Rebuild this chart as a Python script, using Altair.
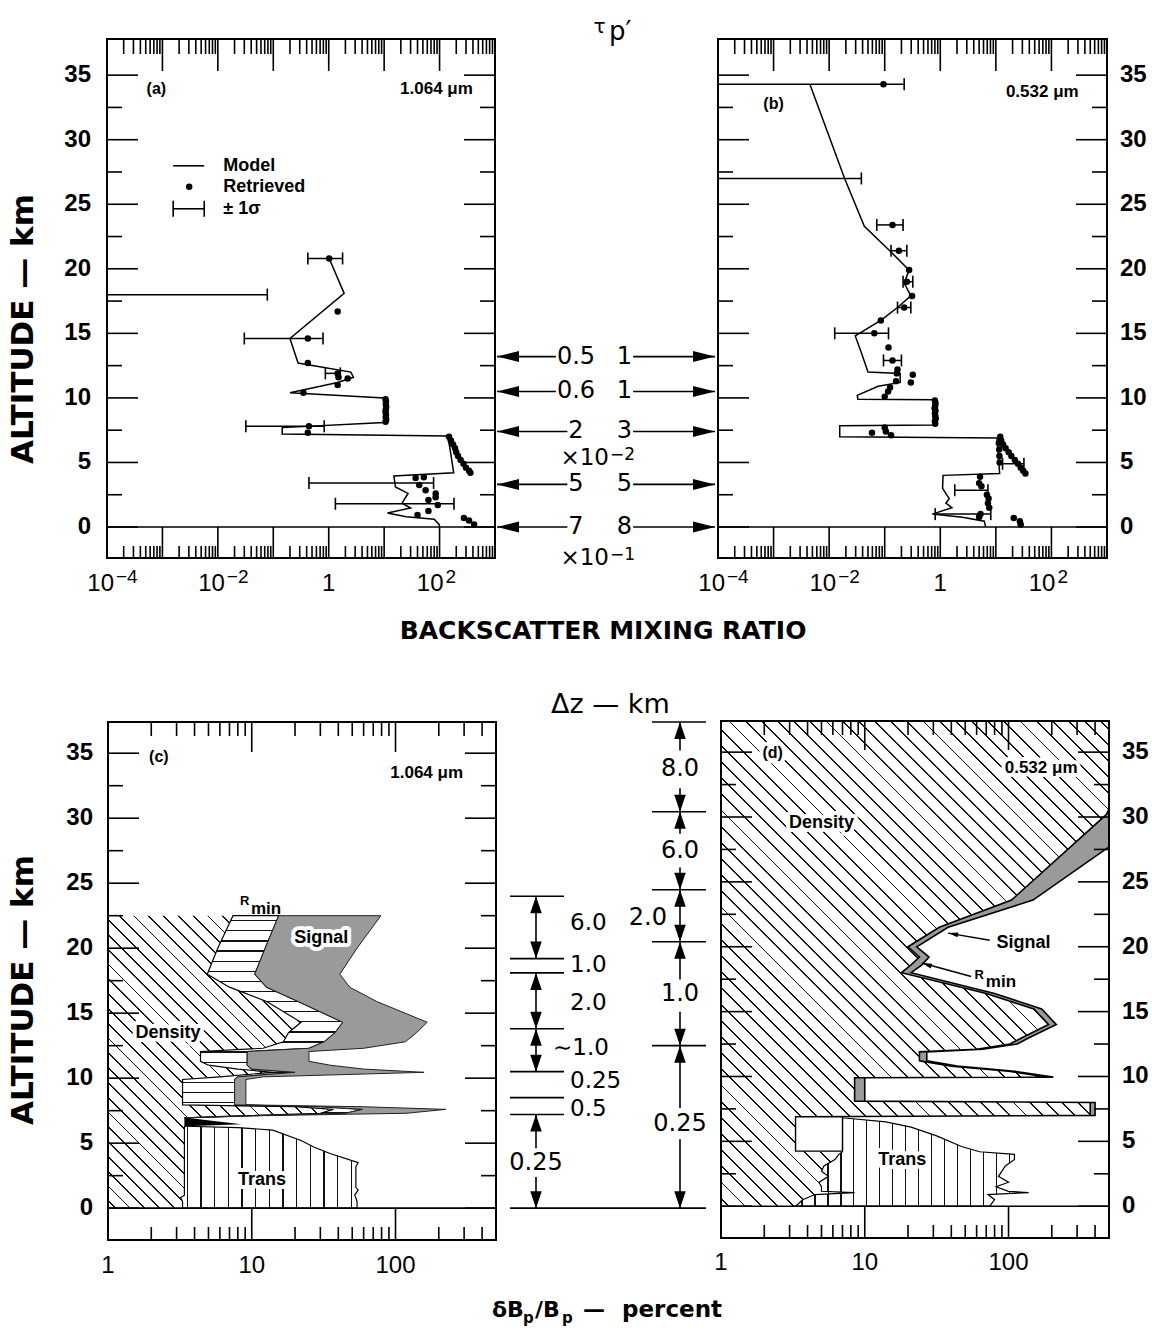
import math
import altair as alt
import pandas as pd

LIB = "Liberation Sans"
DJV = "DejaVu Sans"

# ======================= DATA =======================
# (a) 1.064 um : model profile, retrieved values, +-1 sigma bars
a_model_z = [20.8, 18.1, 14.6, 12.7, 12.0, 11.6, 11.2, 10.4, 10.0, 8.1, 7.7, 7.2, 7.05,
             6.0, 4.2, 3.95, 3.1, 2.6, 1.85, 1.47, 1.08, 0.8, 0.6, 0.2, 0.02]
a_model_x = [1.02, 1.9, 0.2, 0.28, 2.5, 2.8, 1.45, 0.2, 10.0, 10.0, 0.145, 0.145, 140,
             155, 180, 15, 16, 27, 21, 30, 11.5, 25, 80, 98, 100]
a_ret_z = [20.8, 16.7, 14.6, 12.7, 11.9, 11.6, 11.5, 11.0, 10.4,
           9.9, 9.7, 9.5, 9.3, 9.1, 8.9, 8.7, 8.5, 8.3, 8.15,
           7.8, 7.3,
           7.0, 6.7, 6.4, 6.1, 5.8, 5.5, 5.2, 4.9, 4.6, 4.35, 4.2,
           3.8, 3.85, 3.25, 2.85, 2.6, 2.3, 2.1, 1.7, 1.25, 0.93, 0.7, 0.5, 0.2]
a_ret_x = [1.02, 1.45, 0.42, 0.42, 1.45, 1.5, 2.2, 1.45, 0.35,
           10.6, 10.8, 10.7, 10.9, 10.7, 10.6, 10.8, 10.7, 10.9, 10.6,
           0.44, 0.42,
           148, 160, 175, 190, 200, 215, 240, 270, 300, 340, 360,
           37, 52, 43, 56, 85, 85, 63, 93, 63, 40, 275, 340, 420]
a_err_z = [20.8, 18.0, 14.6, 11.9, 7.8, 3.4, 1.8]
a_err_lo = [0.42, 1e-5, 0.030, 0.87, 0.032, 0.44, 1.32]
a_err_hi = [1.78, 0.078, 0.79, 1.62, 0.83, 78, 182]

# (b) 0.532 um
b_model_z = [34.3, 27.0, 23.3, 21.4, 19.9, 18.9, 17.9, 17.0, 16.0, 14.8, 13.5, 12.0, 11.9,
             11.2, 10.9, 10.2, 9.9, 9.85, 7.9, 7.85, 7.0, 6.9, 4.15, 4.0, 3.0, 2.2, 1.85,
             1.5, 1.0, 0.75, 0.45, 0.05]
b_model_x = [0.0045, 0.019, 0.043, 0.123, 0.275, 0.224, 0.295, 0.17, 0.085, 0.0295, 0.038,
             0.05, 0.19, 0.19, 0.076, 0.032, 0.033, 0.81, 0.81, 0.0155, 0.0155, 10.5, 11.7,
             1.12, 1.1, 1.45, 1.26, 1.62, 0.72, 2.5, 6.2, 6.5]
b_ret_z = [34.3, 23.4, 21.4, 19.9, 19.0, 17.9, 17.0, 16.0, 15.0, 13.9, 12.9, 12.2, 11.9,
           11.8, 11.3, 11.2, 10.8, 10.5, 10.1,
           9.8, 9.6, 9.4, 9.2, 9.0, 8.8, 8.6, 8.4, 8.2, 8.0,
           7.7, 7.4, 7.3, 7.1,
           7.0, 6.7, 6.4, 6.1, 5.8, 5.5, 5.2, 4.9, 4.6, 4.35, 4.15,
           6.5, 6.0, 5.5, 5.0,
           3.9, 3.4, 3.15, 2.5, 2.2, 1.85, 1.5, 1.0, 0.77, 0.7, 0.45, 0.2]
b_ret_x = [0.095, 0.138, 0.18, 0.275, 0.25, 0.31, 0.224, 0.085, 0.065, 0.117, 0.138, 0.17,
           0.165, 0.32, 0.16, 0.295, 0.125, 0.115, 0.1,
           0.80, 0.82, 0.81, 0.79, 0.82, 0.80, 0.81, 0.83, 0.80, 0.81,
           0.1, 0.105, 0.059, 0.13,
           12, 12.5, 13.5, 15, 17, 19, 22, 25, 28, 31, 34,
           11.3, 11.5, 11.6, 11.7,
           5.2, 5.0, 5.5, 6.9, 7.4, 7.2, 7.6, 5.3, 5.0, 21, 27, 28]
b_err_z = [34.3, 27.0, 23.4, 21.4, 19.0, 17.0, 15.0, 12.9, 4.9, 2.85, 1.0]
b_err_lo = [1e-5, 1e-5, 0.072, 0.13, 0.214, 0.17, 0.0126, 0.095, 13.2, 1.82, 0.81]
b_err_hi = [0.224, 0.038, 0.214, 0.25, 0.32, 0.295, 0.117, 0.2, 32, 7.2, 8.1]

# (c) 1.064 um error budget (cumulative boundaries, percent)
c_low_z = [0.0, 0.4, 0.8, 1.2, 2.0, 4.0, 6.0, 6.95]
c_low_D = [3.3, 3.3, 3.2, 3.4, 3.4, 3.4, 3.4, 3.4]
c_z = [6.95, 7.1, 7.3, 7.6, 7.8, 7.95, 8.1, 9.9, 10.1, 10.45, 10.7, 11.0, 11.3, 11.9,
       12.05, 12.3, 12.8, 13.5, 14.3, 15.9, 17.0, 18.0, 20.0, 22.5]
c_D = [3.4, 8, 30, 37, 20, 3.3, 3.3, 3.3, 6, 14, 8, 5, 4.4, 4.4, 4.4, 12, 16.6, 18, 22,
       12.7, 7, 4.9, 5.8, 7.4]
c_R = [3.4, 9, 45, 59, 30, 7.6, 7.6, 7.6, 8, 20, 10, 9.3, 9.3, 9.3, 9.3, 25, 32, 38, 43,
       21, 12.7, 10.5, 12.4, 15.4]
c_S = [3.4, 10, 120, 224, 60, 9.1, 9.1, 9.1, 12, 158, 60, 35, 25, 25, 25, 60, 117, 140,
       166, 74, 48, 41, 54, 79]
c_trans_z = [0.0, 0.5, 0.8, 1.0, 1.4, 1.6, 2.5, 3.2, 3.5, 4.2, 4.7, 5.2, 6.0, 6.2, 6.3]
c_trans_lo = [3.3, 3.3, 3.2, 3.4, 3.4, 3.4, 3.4, 3.4, 3.4, 3.4, 3.4, 3.4, 3.4, 3.4, 3.4]
c_trans_hi = [54, 54, 53, 52, 55, 53, 53, 53, 55, 35, 27, 22, 14, 8, 3.5]
c_wedge_z = [6.3, 6.45, 6.95]
c_wedge_lo = [3.4, 3.4, 3.4]
c_wedge_hi = [3.5, 8.5, 3.5]

# (d) 0.532 um error budget
d_low_z = [0.0, 0.5, 0.9, 1.05, 1.15, 1.5, 1.85, 2.3, 2.7, 3.1, 3.6, 4.0, 4.15, 4.25, 6.9]
d_low_D = [3.3, 3.7, 4.5, 8.5, 5.0, 5.0, 4.8, 5.6, 5.0, 5.2, 6.2, 6.6, 6.0, 3.3, 3.3]
d_z = [6.9, 7.0, 8.0, 8.1, 9.9, 9.95, 10.4, 10.8, 11.2, 11.9, 12.1, 12.5, 13.0, 14.0,
       15.2, 16.4, 18.0, 18.6, 19.2, 20.0, 21.5, 23.6, 27.7, 30.2, 30.6, 37.4]
d_D = [3.3, 370, 370, 8.5, 8.5, 190, 100, 40, 24, 24, 60, 102, 125, 190, 150, 70, 18,
       21, 24, 20, 33, 105, 270, 480, 500, 500]
d_S = [3.3, 400, 400, 10, 10, 205, 110, 44, 27, 27, 66, 115, 140, 215, 170, 80, 21, 25,
       28, 23, 38, 148, 500, 500, 500, 500]
d_trans_z = [0.0, 0.5, 0.9, 1.05, 1.15, 1.5, 1.85, 2.3, 2.7, 3.1, 3.6, 4.0, 4.2, 4.6,
             5.4, 6.1, 6.5, 6.8]
d_trans_lo = [3.3, 3.7, 4.5, 8.5, 5.0, 5.0, 4.8, 5.6, 5.0, 5.2, 6.2, 6.6, 7.0, 7.0, 7.0,
              7.0, 7.0, 7.0]
d_trans_hi = [74, 80, 72, 138, 100, 82, 100, 85, 90, 95, 110, 110, 63, 47, 32, 21, 14, 7.3]
d_box_x = [3.3, 7.0]
d_box_z = [4.25, 6.9]

# centre annotations
ROW_Z = [13.2, 10.5, 7.4, 3.3, 0.0]
ROW_L = ["0.5", "0.6", "2", "5", "7"]
ROW_R = ["1", "1", "3", "5", "8"]
MULT_Z = [4.8, -2.95]
MULT_EXP = ["\u22122", "\u22121"]
DZ_LEFT_BARS = [24.0, 19.2, 18.1, 13.8, 10.5, 8.5, 7.2]
DZ_RIGHT_BARS = [37.4, 30.5, 24.5, 20.5, 12.5]
DZ_LEFT_SEGS = [(24.0, 19.2, None), (18.1, 13.8, None), (13.8, 10.5, None), (7.2, 0.0, (4.6, 2.4))]
DZ_RIGHT_SEGS = [(37.4, 30.5, (35.2, 32.3)), (30.5, 24.5, (28.8, 26.2)), (24.5, 20.5, None),
                 (20.5, 12.5, (17.6, 15.1)), (12.5, 0.0, (7.7, 5.3))]
DZ_LEFT_LBL = [("6.0", 21.9), ("1.0", 18.7), ("2.0", 15.8), ("\u223c1.0", 12.3), ("0.25", 9.75), ("0.5", 7.6)]
DZ_RIGHT_LBL = [("8.0", 33.8), ("6.0", 27.5), ("1.0", 16.5), ("0.25", 6.5)]

# axis ticks / labels
Y_MAJOR = [0, 5, 10, 15, 20, 25, 30, 35]
Y_MINOR = [2.5, 7.5, 12.5, 17.5, 22.5, 27.5, 32.5]
AB_MAJOR = [1e-3, 1e-2, 1e-1, 1.0, 1e1, 1e2]
AB_MINOR = [k * 10.0 ** e for e in range(-4, 3) for k in range(2, 10)]
CD_MAJOR = [10.0, 100.0]
CD_MINOR = [k * 10.0 ** e for e in range(0, 3) for k in range(2, 10) if k * 10.0 ** e <= 500]
AB_LBL_V = [1e-4, 1e-2, 1.0, 1e2]
AB_LBL_BASE = ["10", "10", "1", "10"]
AB_LBL_EXP = ["\u22124", "\u22122", "", "2"]
CD_LBL_V = [1.0, 10.0, 100.0]
CD_LBL = ["1", "10", "100"]

# ======================= LAYOUT (absolute pixels) =======================
Y1 = [-2.4, 37.8]
Y2 = [-2.45, 37.4]
XAB = [1e-4, 1e3]
XCD = [1.0, 500.0]
PA = dict(x0=107, x1=495, y0=39, y1=558, xd=XAB, yd=Y1, log=True)
PB = dict(x0=718, x1=1107, y0=39, y1=558, xd=XAB, yd=Y1, log=True)
PC = dict(x0=108, x1=496, y0=722, y1=1240, xd=XCD, yd=Y2, log=True)
PD = dict(x0=721, x1=1109, y0=721, y1=1238, xd=XCD, yd=Y2, log=True)
M1 = dict(x0=494, x1=718, y0=39, y1=558, xd=[494, 718], yd=Y1, log=False)
M2 = dict(x0=496, x1=721, y0=722, y1=1240, xd=[496, 721], yd=Y2, log=False)
ARROW_H = "M0,0L-1,-0.25L-1,0.25Z"
ARROW_V = "M0,0L-1,-0.34L-1,0.34Z"
CAP = "M0,-1L0,1"


def df(**cols):
    return pd.DataFrame(cols)


def X(f, p, clamp=False):
    if p["log"]:
        sc = alt.Scale(type="log", domain=p["xd"], range=[p["x0"], p["x1"]], nice=False, clamp=clamp)
    else:
        sc = alt.Scale(type="linear", domain=p["xd"], range=[p["x0"], p["x1"]], nice=False, zero=False)
    return alt.X(f, type="quantitative", scale=sc, axis=None)


def Y(f, p):
    sc = alt.Scale(type="linear", domain=p["yd"], range=[p["y1"], p["y0"]], nice=False, zero=False)
    return alt.Y(f, type="quantitative", scale=sc, axis=None)


def pw(p):
    return p["x1"] - p["x0"]


def ph(p):
    return p["y1"] - p["y0"]


def px_log(v, p):
    return pw(p) * math.log10(v / p["xd"][0]) / math.log10(p["xd"][1] / p["xd"][0])


def px_lin(z, p):
    return ph(p) * (z - p["yd"][0]) / (p["yd"][1] - p["yd"][0])


def stripe_stops(n, half):
    st = [{"offset": 0.0, "color": "white"}]
    for i in range(n):
        c = (i + 0.5) / n
        a = round(max(c - half, 0.0), 5)
        b = round(min(c + half, 1.0), 5)
        st += [{"offset": a, "color": "white"}, {"offset": a, "color": "#111111"},
               {"offset": b, "color": "#111111"}, {"offset": b, "color": "white"}]
    st.append({"offset": 1.0, "color": "white"})
    return st


def hatch_diag(W, H, gap, lw=1.3):
    L = (W + H) / math.sqrt(2)
    n = max(1, int(round(L / gap)))
    t = (W + H) / (W * W + H * H)
    return {"gradient": "linear", "x1": 0, "y1": 1, "x2": round(t * W, 5),
            "y2": round(1 - t * H, 5), "stops": stripe_stops(n, lw / 2 / L)}


def hatch_v(W, gap, lw=1.3):
    n = max(1, int(round(W / gap)))
    return {"gradient": "linear", "x1": 0, "y1": 0, "x2": 1, "y2": 0,
            "stops": stripe_stops(n, lw / 2 / W)}


def hatch_h(H, gap, lw=1.3):
    n = max(1, int(round(H / gap)))
    return {"gradient": "linear", "x1": 0, "y1": 0, "x2": 0, "y2": 1,
            "stops": stripe_stops(n, lw / 2 / H)}


def txt(d, xe, ye, **kw):
    base = dict(font=LIB, fontSize=18, fontWeight="bold", color="black",
                align="center", baseline="middle")
    base.update(kw)
    return alt.Chart(d).mark_text(**base).encode(x=xe, y=ye, text="t:N")


def halo_txt(d, xe, ye, **kw):
    h = dict(kw)
    h.update(color="white", stroke="white", strokeWidth=8, strokeJoin="round")
    return [txt(d, xe, ye, **h), txt(d, xe, ye, **kw)]


def frame(p, xmaj, xmin, top_maj, top_min, bot_min, side, lab_pad):
    x0, x1, y0, y1 = p["x0"], p["x1"], p["y0"], p["y1"]
    zpix = y0 + ph(p) * p["yd"][1] / (p["yd"][1] - p["yd"][0])
    R = dict(color="black", strokeWidth=1.6)
    L = []
    L.append(alt.Chart(df(v=xmaj)).mark_rule(**R).encode(x=X("v", p), y=alt.value(y0), y2=alt.value(y0 + top_maj)))
    L.append(alt.Chart(df(v=xmin)).mark_rule(**R).encode(x=X("v", p), y=alt.value(y0), y2=alt.value(y0 + top_min)))
    L.append(alt.Chart(df(v=xmaj)).mark_rule(**R).encode(x=X("v", p), y=alt.value(y1), y2=alt.value(zpix)))
    L.append(alt.Chart(df(v=xmin)).mark_rule(**R).encode(x=X("v", p), y=alt.value(y1), y2=alt.value(y1 - bot_min)))
    L.append(alt.Chart(df(v=Y_MAJOR)).mark_rule(**R).encode(y=Y("v", p), x=alt.value(x0), x2=alt.value(x0 + 31)))
    L.append(alt.Chart(df(v=Y_MAJOR)).mark_rule(**R).encode(y=Y("v", p), x=alt.value(x1), x2=alt.value(x1 - 31)))
    L.append(alt.Chart(df(v=Y_MINOR)).mark_rule(**R).encode(y=Y("v", p), x=alt.value(x0), x2=alt.value(x0 + 15)))
    L.append(alt.Chart(df(v=Y_MINOR)).mark_rule(**R).encode(y=Y("v", p), x=alt.value(x1), x2=alt.value(x1 - 15)))
    L.append(alt.Chart(df(z=[0.0])).mark_rule(**R).encode(y=Y("z", p), x=alt.value(x0), x2=alt.value(x1)))
    L.append(alt.Chart(df(k=[0])).mark_rect(fillOpacity=0, stroke="black", strokeWidth=2).encode(
        x=alt.value(x0), x2=alt.value(x1), y=alt.value(y0), y2=alt.value(y1)))
    labs = df(v=Y_MAJOR, t=[str(v) for v in Y_MAJOR])
    if side == "left":
        L.append(alt.Chart(labs).mark_text(font=LIB, fontSize=24, fontWeight="bold", color="black",
                                           align="right", baseline="middle").encode(
            y=Y("v", p), x=alt.value(x0 - lab_pad), text="t:N"))
    else:
        L.append(alt.Chart(labs).mark_text(font=LIB, fontSize=24, fontWeight="bold", color="black",
                                           align="left", baseline="middle").encode(
            y=Y("v", p), x=alt.value(x1 + lab_pad), text="t:N"))
    return L


def ab_labels(p):
    L = []
    y1 = p["y1"]
    for v, b, e in zip(AB_LBL_V, AB_LBL_BASE, AB_LBL_EXP):
        if e:
            off = 7 if e.startswith("\u2212") else 4
            L.append(alt.Chart(df(v=[v], t=[b])).mark_text(
                align="right", baseline="alphabetic", dx=off, dy=33, font=LIB, fontSize=24,
                color="black").encode(x=X("v", p), y=alt.value(y1), text="t:N"))
            L.append(alt.Chart(df(v=[v], t=[e])).mark_text(
                align="left", baseline="alphabetic", dx=off + 2, dy=25, font=LIB, fontSize=19,
                color="black").encode(x=X("v", p), y=alt.value(y1), text="t:N"))
        else:
            L.append(alt.Chart(df(v=[v], t=[b])).mark_text(
                align="center", baseline="alphabetic", dy=33, font=LIB, fontSize=24,
                color="black").encode(x=X("v", p), y=alt.value(y1), text="t:N"))
    return L


def cd_labels(p, dy):
    return [alt.Chart(df(v=CD_LBL_V, t=CD_LBL)).mark_text(
        align="center", baseline="alphabetic", dy=dy, font=LIB, fontSize=24,
        color="black").encode(x=X("v", p), y=alt.value(p["y1"]), text="t:N")]


def profile_layers(p, mz, mxv, rz, rx, ez, elo, ehi):
    L = []
    L.append(alt.Chart(df(z=ez, lo=elo, hi=ehi)).mark_rule(color="black", strokeWidth=1.5).encode(
        x=X("lo", p, clamp=True), x2=alt.X2("hi"), y=Y("z", p)))
    cz, cv = [], []
    for z, lo, hi in zip(ez, elo, ehi):
        for v in (lo, hi):
            if v >= p["xd"][0]:
                cz.append(z)
                cv.append(v)
    L.append(alt.Chart(df(z=cz, v=cv)).mark_point(
        shape=CAP, size=144, filled=False, color="black", strokeWidth=1.6, opacity=1).encode(
        x=X("v", p), y=Y("z", p)))
    L.append(alt.Chart(df(z=mz, x=mxv, i=list(range(len(mz))))).mark_line(
        color="black", strokeWidth=1.5).encode(
        x=X("x", p), y=Y("z", p), order=alt.Order("i:Q")))
    L.append(alt.Chart(df(z=rz, x=rx)).mark_circle(size=42, color="black", opacity=1).encode(
        x=X("x", p), y=Y("z", p)))
    return L


# ---------------- panel (a) ----------------
def panel_a():
    p = PA
    L = profile_layers(p, a_model_z, a_model_x, a_ret_z, a_ret_x, a_err_z, a_err_lo, a_err_hi)
    L.append(alt.Chart(df(x1=[10 ** -2.806], x2=[10 ** -2.246], z=[27.98])).mark_rule(
        color="black", strokeWidth=1.6).encode(x=X("x1", p), x2=alt.X2("x2"), y=Y("z", p)))
    L.append(alt.Chart(df(x=[10 ** -2.517], z=[26.36])).mark_circle(size=42, color="black", opacity=1).encode(
        x=X("x", p), y=Y("z", p)))
    L.append(alt.Chart(df(x1=[10 ** -2.806], x2=[10 ** -2.246], z=[24.65])).mark_rule(
        color="black", strokeWidth=1.6).encode(x=X("x1", p), x2=alt.X2("x2"), y=Y("z", p)))
    L.append(alt.Chart(df(v=[10 ** -2.806, 10 ** -2.246], z=[24.65, 24.65])).mark_point(
        shape=CAP, size=256, filled=False, color="black", strokeWidth=1.6, opacity=1).encode(
        x=X("v", p), y=Y("z", p)))
    L.append(txt(df(x=[10 ** -1.902] * 3, z=[27.98, 26.36, 24.65], t=["Model", "Retrieved", "\u00b1 1\u03c3"]),
                 X("x", p), Y("z", p), align="left"))
    L.append(txt(df(x=[10 ** -3.11], z=[33.9], t=["(a)"]), X("x", p), Y("z", p), fontSize=16))
    L.append(txt(df(x=[10 ** 2.6], z=[33.9], t=["1.064 \u03bcm"]), X("x", p), Y("z", p),
                 fontSize=17, align="right"))
    L += frame(p, AB_MAJOR, AB_MINOR, 32, 15, 12, "left", 16)
    L += ab_labels(p)
    return L


# ---------------- panel (b) ----------------
def panel_b():
    p = PB
    L = profile_layers(p, b_model_z, b_model_x, b_ret_z, b_ret_x, b_err_z, b_err_lo, b_err_hi)
    L.append(txt(df(x=[10 ** -3.0], z=[32.8], t=["(b)"]), X("x", p), Y("z", p), fontSize=16))
    L.append(txt(df(x=[10 ** 2.49], z=[33.7], t=["0.532 \u03bcm"]), X("x", p), Y("z", p),
                 fontSize=17, align="right"))
    L += frame(p, AB_MAJOR, AB_MINOR, 32, 15, 12, "right", 13)
    L += ab_labels(p)
    return L


# ---------------- panel (c) ----------------
def panel_c():
    p = PC
    L = []
    dz = c_low_z + c_z[1:]
    dx = c_low_D + c_D[1:]
    dW = px_log(max(dx), p)
    dH = px_lin(max(dz), p) - px_lin(0, p)
    L.append(alt.Chart(df(z=dz, x=dx, b=[1.0 for _ in dz])).mark_area(
        orient="horizontal", fill=hatch_diag(dW, dH, 10.6), opacity=1, strokeWidth=0).encode(
        y=Y("z", p), x=X("b", p), x2=alt.X2("x")))
    rH = px_lin(max(c_z), p) - px_lin(min(c_z), p)
    L.append(alt.Chart(df(z=c_z, lo=c_D, hi=c_R)).mark_area(
        orient="horizontal", fill=hatch_h(rH, 10.3), opacity=1, stroke="black", strokeWidth=1.2).encode(
        y=Y("z", p), x=X("lo", p), x2=alt.X2("hi")))
    L.append(alt.Chart(df(z=c_z, lo=c_R, hi=c_S)).mark_area(
        orient="horizontal", fill="#9a9a9a", opacity=1, stroke="#222222", strokeWidth=1.0).encode(
        y=Y("z", p), x=X("lo", p), x2=alt.X2("hi")))
    tW = px_log(max(c_trans_hi), p) - px_log(min(c_trans_lo), p)
    L.append(alt.Chart(df(z=c_trans_z, lo=c_trans_lo, hi=c_trans_hi)).mark_area(
        orient="horizontal", fill=hatch_v(tW, 13.4), opacity=1, stroke="black", strokeWidth=1.2).encode(
        y=Y("z", p), x=X("lo", p), x2=alt.X2("hi")))
    L.append(alt.Chart(df(z=c_wedge_z, lo=c_wedge_lo, hi=c_wedge_hi)).mark_area(
        orient="horizontal", fill="black", opacity=1).encode(
        y=Y("z", p), x=X("lo", p), x2=alt.X2("hi")))
    L += halo_txt(df(x=[2.61, 30.4, 11.8], z=[13.5, 20.8, 2.2], t=["Density", "Signal", "Trans"]),
                  X("x", p), Y("z", p))
    L.append(txt(df(x=[8.28], z=[23.6], t=["R"]), X("x", p), Y("z", p), fontSize=13, align="left"))
    L.append(txt(df(x=[9.87], z=[23.0], t=["min"]), X("x", p), Y("z", p), fontSize=17, align="left"))
    L.append(txt(df(x=[2.26], z=[34.7], t=["(c)"]), X("x", p), Y("z", p), fontSize=16))
    L.append(txt(df(x=[295.0], z=[33.5], t=["1.064 \u03bcm"]), X("x", p), Y("z", p),
                 fontSize=17, align="right"))
    L += frame(p, CD_MAJOR, CD_MINOR, 30, 14, 13, "left", 15)
    L += cd_labels(p, 33)
    return L


# ---------------- panel (d) ----------------
def panel_d():
    p = PD
    L = []
    dz = d_low_z + d_z[1:]
    dx = d_low_D + d_D[1:]
    dW = px_log(max(dx), p)
    dH = px_lin(max(dz), p) - px_lin(0, p)
    L.append(alt.Chart(df(z=dz, x=dx, b=[1.0 for _ in dz])).mark_area(
        orient="horizontal", fill=hatch_diag(dW, dH, 11.5), opacity=1, strokeWidth=0).encode(
        y=Y("z", p), x=X("b", p), x2=alt.X2("x")))
    L.append(alt.Chart(df(z=d_z, lo=d_D, hi=d_S)).mark_area(
        orient="horizontal", fill="#9a9a9a", opacity=1, stroke="black", strokeWidth=1.6).encode(
        y=Y("z", p), x=X("lo", p), x2=alt.X2("hi")))
    tW = px_log(max(d_trans_hi), p) - px_log(min(d_trans_lo), p)
    L.append(alt.Chart(df(z=d_trans_z, lo=d_trans_lo, hi=d_trans_hi)).mark_area(
        orient="horizontal", fill=hatch_v(tW, 12.8), opacity=1, stroke="black", strokeWidth=1.2).encode(
        y=Y("z", p), x=X("lo", p), x2=alt.X2("hi")))
    L.append(alt.Chart(df(x1=[d_box_x[0]], x2=[d_box_x[1]], z1=[d_box_z[0]], z2=[d_box_z[1]])).mark_rect(
        fill="white", stroke="black", strokeWidth=1.4).encode(
        x=X("x1", p), x2=alt.X2("x2"), y=Y("z1", p), y2=alt.Y2("z2")))
    L += halo_txt(df(x=[5.0, 18.2], z=[29.5, 3.6], t=["Density", "Trans"]), X("x", p), Y("z", p))
    L.append(alt.Chart(df(x1=[74.0, 55.0], x2=[38.0, 25.0], z1=[20.5, 17.7], z2=[21.05, 18.75])).mark_rule(
        color="black", strokeWidth=1.5).encode(x=X("x1", p), x2=alt.X2("x2"), y=Y("z1", p), y2=alt.Y2("z2")))
    L.append(alt.Chart(df(x=[38.0], z=[21.05])).mark_point(shape=ARROW_H, size=400, filled=True, color="black",
                                                          opacity=1, angle=190).encode(x=X("x", p), y=Y("z", p)))
    L.append(alt.Chart(df(x=[25.0], z=[18.75])).mark_point(shape=ARROW_H, size=400, filled=True, color="black",
                                                          opacity=1, angle=198).encode(x=X("x", p), y=Y("z", p)))
    L += halo_txt(df(x=[82.5], z=[20.3], t=["Signal"]), X("x", p), Y("z", p), align="left")
    L.append(txt(df(x=[58.0], z=[17.8], t=["R"]), X("x", p), Y("z", p), align="left", fontSize=13))
    L.append(txt(df(x=[69.5], z=[17.3], t=["min"]), X("x", p), Y("z", p), align="left", fontSize=17))
    L += halo_txt(df(x=[2.29], z=[34.9], t=["(d)"]), X("x", p), Y("z", p), fontSize=16)
    L += halo_txt(df(x=[302.0], z=[33.8], t=["0.532 \u03bcm"]), X("x", p), Y("z", p),
                  fontSize=17, align="right")
    L += frame(p, CD_MAJOR, CD_MINOR, 29, 14, 13, "right", 13)
    L += cd_labels(p, 32)
    return L


def tw(s, fs=24):
    return sum(0.636 if ch.isdigit() else 0.318 for ch in s) * fs


# ---------------- middle of top row ----------------
def mid_top():
    p = M1
    L = []
    lc, rc = 576.0, 624.5
    x1, x2, zz = [], [], []
    for z, a, b in zip(ROW_Z, ROW_L, ROW_R):
        x1 += [497, rc + tw(b) / 2 + 1]
        x2 += [lc - tw(a) / 2 - 1, 715]
        zz += [z, z]
    L.append(alt.Chart(df(x1=x1, x2=x2, z=zz)).mark_rule(color="black", strokeWidth=1.6).encode(
        x=X("x1", p), x2=alt.X2("x2"), y=Y("z", p)))
    L.append(alt.Chart(df(x=[497 for _ in ROW_Z], z=ROW_Z)).mark_point(
        shape=ARROW_H, size=1936, filled=True, color="black", opacity=1, angle=180).encode(
        x=X("x", p), y=Y("z", p)))
    L.append(alt.Chart(df(x=[715 for _ in ROW_Z], z=ROW_Z)).mark_point(
        shape=ARROW_H, size=1936, filled=True, color="black", opacity=1, angle=0).encode(
        x=X("x", p), y=Y("z", p)))
    L.append(txt(df(x=[lc for _ in ROW_Z], z=ROW_Z, t=ROW_L), X("x", p), Y("z", p),
                 font=DJV, fontSize=24, fontWeight="normal"))
    L.append(txt(df(x=[rc for _ in ROW_Z], z=ROW_Z, t=ROW_R), X("x", p), Y("z", p),
                 font=DJV, fontSize=24, fontWeight="normal"))
    L.append(txt(df(x=[609, 609], z=MULT_Z, t=["\u00d710", "\u00d710"]), X("x", p), Y("z", p),
                 font=DJV, fontSize=23, fontWeight="normal", align="right", baseline="alphabetic"))
    L.append(txt(df(x=[610, 610], z=MULT_Z, t=MULT_EXP), X("x", p), Y("z", p),
                 font=DJV, fontSize=17, fontWeight="normal", align="left", baseline="alphabetic", dy=-5))
    L.append(txt(df(x=[593.6], z=[38.3], t=["\u03c4"]), X("x", p), Y("z", p),
                 font=DJV, fontSize=20, fontWeight="normal", align="left", baseline="alphabetic"))
    L.append(txt(df(x=[609.0], z=[37.75], t=["p\u2032"]), X("x", p), Y("z", p),
                 font=DJV, fontSize=26, fontWeight="normal", align="left", baseline="alphabetic"))
    L.append(txt(df(x=[603.0], z=[-8.68], t=["BACKSCATTER MIXING RATIO"]), X("x", p), Y("z", p),
                 font=DJV, fontSize=25, baseline="alphabetic"))
    return L


# ---------------- middle of bottom row ----------------
def mid_bot():
    p = M2
    L = []
    LX, RX = 536, 680
    bx1 = [510 for _ in DZ_LEFT_BARS] + [652 for _ in DZ_RIGHT_BARS] + [510]
    bx2 = [564 for _ in DZ_LEFT_BARS] + [706 for _ in DZ_RIGHT_BARS] + [706]
    bz = DZ_LEFT_BARS + DZ_RIGHT_BARS + [0.0]
    L.append(alt.Chart(df(x1=bx1, x2=bx2, z=bz)).mark_rule(color="black", strokeWidth=1.6).encode(
        x=X("x1", p), x2=alt.X2("x2"), y=Y("z", p)))
    sxl, s1, s2, ux, uz, dxl, dzl = [], [], [], [], [], [], []
    for xc, segs in ((LX, DZ_LEFT_SEGS), (RX, DZ_RIGHT_SEGS)):
        for top, bot, gap in segs:
            if gap:
                sxl += [xc, xc]
                s1 += [top, gap[1]]
                s2 += [gap[0], bot]
            else:
                sxl += [xc]
                s1 += [top]
                s2 += [bot]
            ux.append(xc)
            uz.append(top)
            dxl.append(xc)
            dzl.append(bot)
    L.append(alt.Chart(df(x=sxl, z1=s1, z2=s2)).mark_rule(color="black", strokeWidth=1.6).encode(
        x=X("x", p), y=Y("z1", p), y2=alt.Y2("z2")))
    L.append(alt.Chart(df(x=ux, z=uz)).mark_point(shape=ARROW_V, size=1156, filled=True, color="black",
                                                 opacity=1, angle=270).encode(x=X("x", p), y=Y("z", p)))
    L.append(alt.Chart(df(x=dxl, z=dzl)).mark_point(shape=ARROW_V, size=1156, filled=True, color="black",
                                                   opacity=1, angle=90).encode(x=X("x", p), y=Y("z", p)))
    lt = [t for t, _ in DZ_LEFT_LBL]
    lz = [z for _, z in DZ_LEFT_LBL]
    lx = [553 if t.startswith("\u223c") else 570 for t in lt]
    L.append(txt(df(x=lx, z=lz, t=lt), X("x", p), Y("z", p), font=DJV, fontSize=23,
                 fontWeight="normal", align="left"))
    L.append(txt(df(x=[LX], z=[3.5], t=["0.25"]), X("x", p), Y("z", p), font=DJV, fontSize=24,
                 fontWeight="normal"))
    rt = [t for t, _ in DZ_RIGHT_LBL]
    rz = [z for _, z in DZ_RIGHT_LBL]
    L.append(txt(df(x=[RX for _ in rt], z=rz, t=rt), X("x", p), Y("z", p), font=DJV, fontSize=24,
                 fontWeight="normal"))
    L.append(txt(df(x=[667], z=[22.3], t=["2.0"]), X("x", p), Y("z", p), font=DJV, fontSize=24,
                 fontWeight="normal", align="right"))
    L.append(txt(df(x=[551], z=[38.08], t=["\u0394z \u2014 km"]), X("x", p), Y("z", p), font=DJV,
                 fontSize=27, fontWeight="normal", align="left", baseline="alphabetic"))
    parts = [(492, "\u03b4B", 22, 0), (523, "p", 15, 6), (535, "/B", 22, 0), (562, "p", 15, 6),
             (583, "\u2014", 22, 0), (622, "percent", 23, 0)]
    for x, t, fs, dy in parts:
        L.append(txt(df(x=[x], z=[-8.35], t=[t]), X("x", p), Y("z", p), font=DJV, fontSize=fs,
                     align="left", baseline="alphabetic", dy=dy))
    return L


def titles():
    d = df(k=[0])
    L = []
    for yc in (329, 990):
        L.append(alt.Chart(d).mark_text(text="ALTITUDE \u2014 km", font=DJV, fontSize=31, fontWeight="bold",
                                        color="black", angle=270, align="center", baseline="middle").encode(
            x=alt.value(24), y=alt.value(yc)))
    return L


layers = (panel_a() + panel_b() + panel_c() + panel_d() + mid_top() + mid_bot() + titles())
chart = alt.layer(*layers).resolve_scale(x="independent", y="independent").properties(
    width=1152, height=1332,
    autosize=alt.AutoSizeParams(type="none"),
    padding={"left": 0, "top": 0, "right": 0, "bottom": 0},
    background="white",
).configure_view(strokeWidth=0)

chart.save("out.html", embed_options={"renderer": "svg", "actions": False})
